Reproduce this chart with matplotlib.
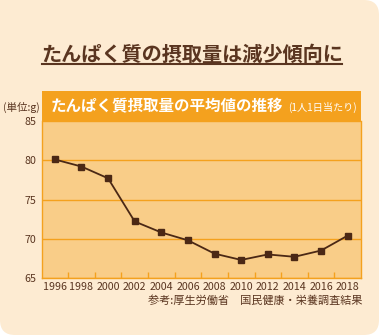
import numpy as np
import matplotlib.pyplot as plt
from matplotlib.patches import FancyBboxPatch, Rectangle
from matplotlib.lines import Line2D

plt.rcParams['font.family'] = ['Noto Sans CJK JP', 'DejaVu Sans']

years = ['1996', '1998', '2000', '2002', '2004', '2006', '2008', '2010', '2012', '2014', '2016', '2018']
protein = [80.1, 79.2, 77.7, 72.2, 70.8, 69.8, 68.1, 67.3, 68.0, 67.7, 68.5, 70.4]
y_ticks = [65, 70, 75, 80, 85]

title = 'たんぱく質の摂取量は減少傾向に'
header = 'たんぱく質摂取量の平均値の推移'
header_note = '(1人1日当たり)'
unit = '(単位:g)'
source = '参考:厚生労働省　国民健康・栄養調査結果'

CREAM = '#FDEBD2'
FILL = '#F9CD88'
ORANGE = '#F4A11E'
BROWN = '#4B2815'
TEXT = '#5A3520'

W, H = 384, 336
fig = plt.figure(figsize=(W / 100, H / 100), dpi=100)
fig.patch.set_facecolor('white')

# cream rounded panel (inches), top-left corner square
inch = fig.dpi_scale_trans
fig.patches.append(FancyBboxPatch((0, 0.01), 3.79, 3.35,
                                  boxstyle='round,pad=0,rounding_size=0.15',
                                  transform=inch, facecolor=CREAM,
                                  edgecolor='none', zorder=-2))
fig.patches.append(Rectangle((0, 2.5), 1.0, 0.86, transform=inch,
                             facecolor=CREAM, edgecolor='none', zorder=-2))

# title with underline
fig.text(192 / W, 1 - 54 / H, title, ha='center', va='center', fontsize=14.5,
         fontweight='bold', color=TEXT)
fig.add_artist(Line2D([42 / W, 342 / W], [1 - 64 / H, 1 - 64 / H], color=TEXT,
                      lw=1.5, transform=fig.transFigure))

# plot area
left, right, top, bottom = 41.5, 361, 121, 278
ax = fig.add_axes([left / W, 1 - bottom / H, (right - left) / W, (bottom - top) / H])
ax.set_facecolor(FILL)

# header band
fig.patches.append(Rectangle((left / W, 1 - top / H), (right - left) / W, 30.5 / H,
                             transform=fig.transFigure, facecolor=ORANGE,
                             edgecolor='none', zorder=1))
fig.text(51 / W, 1 - 106 / H, header, ha='left', va='center', fontsize=11.2,
         fontweight='bold', color='white', zorder=2)
fig.text(288 / W, 1 - 107 / H, header_note, ha='left', va='center', fontsize=7.3,
         color='white', zorder=2)
fig.text(3 / W, 1 - 107 / H, unit, ha='left', va='center', fontsize=7.6, color=TEXT)

x = np.arange(len(years))
ax.plot(x, protein, color=BROWN, lw=1.3, marker='s', markersize=5, zorder=3)

ax.set_xlim(-0.5, len(years) - 0.5)
ax.set_ylim(65, 85)
ax.set_yticks(y_ticks)
ax.set_xticks(x)
ax.set_xticklabels(years)
ax.set_xticks(x[:-1] + 0.5, minor=True)
ax.tick_params(axis='x', which='major', length=0, labelsize=7.7, labelcolor=TEXT, pad=3)
ax.tick_params(axis='x', which='minor', direction='in', length=4, color=ORANGE, width=1)
ax.tick_params(axis='y', length=0, labelsize=7.7, labelcolor=TEXT, pad=4)
ax.grid(axis='y', color=ORANGE, lw=1)
for s in ['left', 'bottom', 'right']:
    ax.spines[s].set_color(ORANGE)
    ax.spines[s].set_linewidth(1)
ax.spines['top'].set_visible(False)

fig.text(362 / W, 1 - 301 / H, source, ha='right', va='center', fontsize=8, color=TEXT)

fig.savefig('out.png', dpi=100, facecolor=fig.get_facecolor())
